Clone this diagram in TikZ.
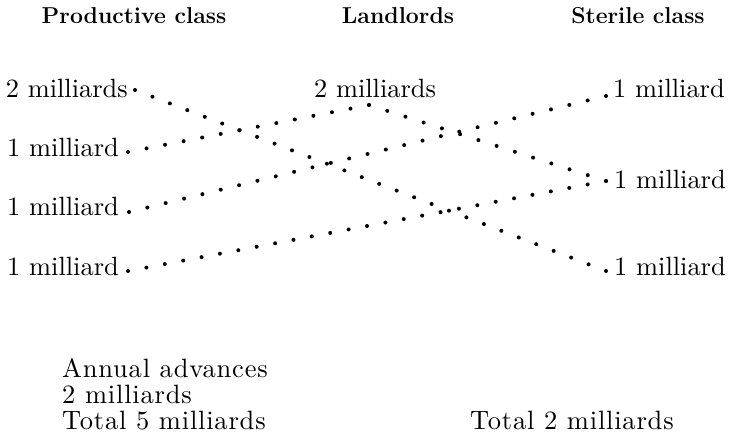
\documentclass[tikz,border=0pt]{standalone}
\usepackage{fontspec}
\usetikzlibrary{calc}
\newfontfamily\amountfont{lmroman10-regular.otf}
\newfontfamily\totalfont{lmroman10-regular.otf}[LetterSpace=3]
\tikzset{
  x=1pt, y=-1pt,
  title/.style={inner sep=0pt, anchor=base, font=\bfseries\fontsize{23}{27}\selectfont},
  amount/.style={inner sep=0pt, font=\amountfont\fontsize{26.4}{30}\selectfont},
  summary/.style={inner sep=0pt, anchor=base west, font=\totalfont\fontsize{26.5}{28}\selectfont},
  dotmark/.style={fill=black},
}
% a row of evenly spaced dots from #1 to #2, #3 gaps
\newcommand\dottedlink[3]{%
  \foreach \k in {0,...,#3}{\fill[dotmark] ($(#1)!{\k/#3}!(#2)$) circle[radius=2pt];}}

\begin{document}
\begin{tikzpicture}
\useasboundingbox (0,0) rectangle (729,433);

% column heads
\node[title] (hprod) at (134,24) {Productive class};
\node[title] (hland) at (398,24) {Landlords};
\node[title] (hster) at (638,24) {Sterile class};

% productive class
\node[amount, anchor=base east] (p1) at (128,98)  {2 milliards};
\node[amount, anchor=base east] (p2) at (119,157) {1 milliard};
\node[amount, anchor=base east] (p3) at (119,216) {1 milliard};
\node[amount, anchor=base east] (p4) at (119,275) {1 milliard};

% landlords
\node[amount, anchor=base] (l1) at (375,98) {2 milliards};

% sterile class
\node[amount, anchor=base west] (s1) at (613,98)  {1 milliard};
\node[amount, anchor=base west] (s2) at (614,189) {1 milliard};
\node[amount, anchor=base west] (s3) at (614,276) {1 milliard};

% ends of the dotted flows
\coordinate (p1d) at (135,90);
\coordinate (p2d) at (128,152);
\coordinate (p3d) at (129,212);
\coordinate (p4d) at (128,271);
\coordinate (l1d) at (369,105);
\coordinate (s1d) at (606,96);
\coordinate (s2d) at (606,181);
\coordinate (s3d) at (606,271);

% flows
\dottedlink{p1d}{s3d}{27}
\dottedlink{p2d}{l1d}{13}
\dottedlink{l1d}{s2d}{13}
\dottedlink{p3d}{s1d}{26}
\dottedlink{p4d}{s2d}{26}

% totals
\node[summary] (a1) at (62,377) {Annual advances};
\node[summary] (a2) at (62,403) {2 milliards};
\node[summary] (a3) at (62,429) {Total 5 milliards};
\node[summary] (a4) at (470,429) {Total 2 milliards};
\end{tikzpicture}
\end{document}
